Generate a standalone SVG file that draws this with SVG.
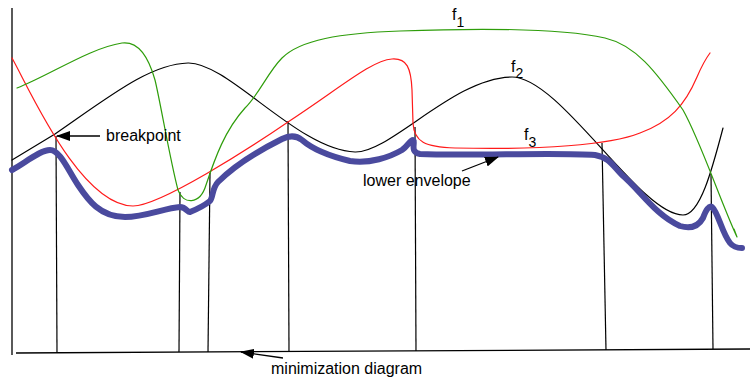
<svg xmlns="http://www.w3.org/2000/svg" width="750" height="379" viewBox="0 0 750 379">
<defs>
<marker id="ah" viewBox="0 0 14 10" refX="13" refY="5" markerWidth="14" markerHeight="10" markerUnits="userSpaceOnUse" orient="auto">
<path d="M0,0 L14,5 L0,10 Z" fill="#000"/>
</marker>
</defs>
<style>
.ax{stroke:#000;stroke-width:1.3;fill:none}
.vl{stroke:#000;stroke-width:1.2;fill:none}
.cv{fill:none;stroke-width:1.2;stroke-linecap:round;stroke-linejoin:round}
.f1{stroke:#2e9d0a}
.f2{stroke:#000}
.f3{stroke:#ff1a1a}
.env{fill:none;stroke:#4a4a9e;stroke-width:6;stroke-linecap:round;stroke-linejoin:round}
.lbl{font-family:"Liberation Sans",Arial,sans-serif;font-size:16px;fill:#000}
.ptr{stroke:#000;stroke-width:1.3;fill:none}
</style>
<g id="axes">
<line class="ax" x1="12" y1="8" x2="12" y2="355"/>
<line class="ax" x1="16" y1="353" x2="750" y2="349"/>
</g>
<g id="breaklines">
<line class="vl" x1="56" y1="136" x2="57" y2="353"/>
<line class="vl" x1="180" y1="192" x2="179" y2="352"/>
<line class="vl" x1="210" y1="173" x2="208" y2="352"/>
<line class="vl" x1="288" y1="121" x2="289" y2="352"/>
<line class="vl" x1="415" y1="127" x2="416" y2="351"/>
<line class="vl" x1="602" y1="143" x2="606" y2="350"/>
<line class="vl" x1="711" y1="174" x2="713" y2="349"/>
</g>
<g id="f2">
<path class="cv f2" d="M12,160 L55,134 C110,96 150,64 188,63 C228,62 298,150 355,152 C390,153 455,77 512,77 C560,77 640,215 683,215 C700,215 712,170 723,128"/>
<text class="lbl" x="511" y="72">f<tspan font-size="14" dy="6">2</tspan></text>
</g>
<g id="f3">
<path class="cv f3" d="M12,58 C30,90 80,205 133,206 C160,206 250,148 288,122 C340,88 372,60 392,59 C407,58 411,68 412,90 L413,123 C414,142 425,147 455,148 C540,150 610,145 640,133 C670,122 685,105 697,77 C703,63 707,57 710,53"/>
<text class="lbl" x="524" y="140">f<tspan font-size="14" dy="7">3</tspan></text>
</g>
<g id="f1">
<path class="cv f1" d="M17,88 C50,75 90,48 122,43 C138,41 148,55 155,80 C160,100 170,160 178,190 C183,205 200,205 206,185 C215,158 225,130 245,108 C260,93 268,72 282,58 C300,40 340,33 400,31 C480,28 560,28 605,38 C635,45 655,70 683,110 C700,140 720,200 737,237 M734,229 L737,237"/>
<text class="lbl" x="452" y="20">f<tspan font-size="14" dy="7">1</tspan></text>
</g>
<g id="envelope">
<path class="env" d="M12,170 C25,163 40,150 50,150 C60,150 68,170 78,185 C88,200 100,217 125,217 C145,217 165,208 180,207 C186,207 188,213 190,212 C195,210 205,205 210,201 C213,198 212,188 218,182 C235,165 260,150 282,139 C290,135 297,136 302,140 C310,147 325,155 350,161 C370,164 390,157 402,150 C408,146 410,140 413,140 C416,142 409,152 420,154 C470,156 560,152 595,155 C610,158 612,165 622,175 C640,190 655,215 680,226 C690,229 698,227 703,218 C706,210 709,205 712,207 C718,212 722,233 730,243 C734,248 740,248 742,248"/>
</g>
<g id="connectors">
<line class="ptr" x1="100" y1="136" x2="57" y2="136" marker-end="url(#ah)"/>
<line class="ptr" x1="462" y1="171" x2="498" y2="157" marker-end="url(#ah)"/>
<line class="ptr" x1="283" y1="358" x2="241" y2="352" marker-end="url(#ah)"/>
</g>
<g id="labels">
<text class="lbl" x="106" y="141">breakpoint</text>
<text class="lbl" x="363" y="186">lower envelope</text>
<text class="lbl" x="271" y="374">minimization diagram</text>
</g>
</svg>
